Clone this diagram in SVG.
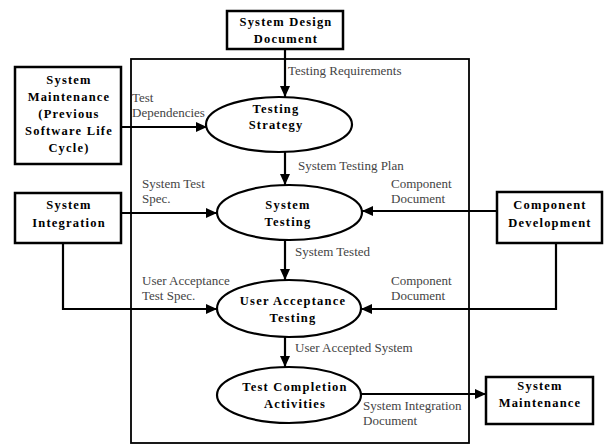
<svg xmlns="http://www.w3.org/2000/svg" width="604" height="445" viewBox="0 0 604 445">
<defs>
<marker id="ah" markerWidth="12" markerHeight="12" refX="11" refY="6" orient="auto" markerUnits="userSpaceOnUse">
<path d="M0,1 L11,6 L0,11 Z" fill="#000"/>
</marker>
<style>
.box{fill:#fff;stroke:#000;stroke-width:2.5}
.ell{fill:#fff;stroke:#000;stroke-width:2.2}
.frame{fill:none;stroke:#000;stroke-width:1.8}
.c{fill:none;stroke:#000;stroke-width:2.2;marker-end:url(#ah)}
.n{font-family:"Liberation Serif",serif;font-weight:bold;font-size:12.5px;letter-spacing:1.2px;text-anchor:middle;fill:#000}
.l{font-family:"Liberation Serif",serif;font-size:13px;fill:#444}
</style>
</defs>
<rect x="0" y="0" width="604" height="445" fill="#fff"/>
<rect class="frame" x="131" y="59" width="338" height="384"/>
<g id="connectors">
<line class="c" x1="285" y1="49" x2="285" y2="97"/>
<line class="c" x1="121" y1="127" x2="207" y2="127"/>
<line class="c" x1="121" y1="213" x2="217" y2="213"/>
<line class="c" x1="497" y1="211" x2="362" y2="211"/>
<polyline class="c" points="63,243 63,309 217,309"/>
<polyline class="c" points="556,243 556,309 361,309"/>
<line class="c" x1="285" y1="152" x2="285" y2="185"/>
<line class="c" x1="285" y1="240" x2="285" y2="280"/>
<line class="c" x1="285" y1="337" x2="285" y2="367"/>
<line class="c" x1="361" y1="394" x2="486" y2="394"/>
</g>
<g id="labels">
<text class="l" x="288" y="75">Testing Requirements</text>
<text class="l" x="132" y="102">Test</text>
<text class="l" x="132" y="117">Dependencies</text>
<text class="l" x="298" y="170">System Testing Plan</text>
<text class="l" x="142" y="188">System Test</text>
<text class="l" x="142" y="203">Spec.</text>
<text class="l" x="391" y="188">Component</text>
<text class="l" x="391" y="203">Document</text>
<text class="l" x="295" y="256">System Tested</text>
<text class="l" x="142" y="285">User Acceptance</text>
<text class="l" x="142" y="300">Test Spec.</text>
<text class="l" x="391" y="285">Component</text>
<text class="l" x="391" y="300">Document</text>
<text class="l" x="295" y="352">User Accepted System</text>
<text class="l" x="363" y="410">System Integration</text>
<text class="l" x="363" y="425">Document</text>
</g>
<g id="sysdesign">
<rect class="box" x="227" y="11" width="116" height="38"/>
<text class="n" x="286" y="26">System Design</text>
<text class="n" x="286" y="43">Document</text>
</g>
<g id="sysmaintprev">
<rect class="box" x="15" y="67" width="106" height="97"/>
<text class="n" x="69" y="84">System</text>
<text class="n" x="69" y="101">Maintenance</text>
<text class="n" x="69" y="118">(Previous</text>
<text class="n" x="69" y="135">Software Life</text>
<text class="n" x="69" y="152">Cycle)</text>
</g>
<g id="sysintegration">
<rect class="box" x="15" y="193" width="106" height="50"/>
<text class="n" x="69" y="209">System</text>
<text class="n" x="69" y="227">Integration</text>
</g>
<g id="compdev">
<rect class="box" x="497" y="192" width="105" height="51"/>
<text class="n" x="550" y="209">Component</text>
<text class="n" x="550" y="227">Development</text>
</g>
<g id="testingstrategy">
<ellipse class="ell" cx="279" cy="124.5" rx="73" ry="27.5"/>
<text class="n" x="276" y="113">Testing</text>
<text class="n" x="276" y="129">Strategy</text>
</g>
<g id="systemtesting">
<ellipse class="ell" cx="289.5" cy="212.5" rx="72.5" ry="27.5"/>
<text class="n" x="288" y="209">System</text>
<text class="n" x="288" y="226">Testing</text>
</g>
<g id="uat">
<ellipse class="ell" cx="289" cy="308.5" rx="72" ry="28.5"/>
<text class="n" x="293" y="305">User Acceptance</text>
<text class="n" x="293" y="322">Testing</text>
</g>
<g id="tca">
<ellipse class="ell" cx="289" cy="395" rx="72" ry="28"/>
<text class="n" x="295" y="391">Test Completion</text>
<text class="n" x="295" y="408">Activities</text>
</g>
<g id="sysmaint">
<rect class="box" x="486" y="377" width="107" height="47"/>
<text class="n" x="540" y="390">System</text>
<text class="n" x="540" y="407">Maintenance</text>
</g>
</svg>
